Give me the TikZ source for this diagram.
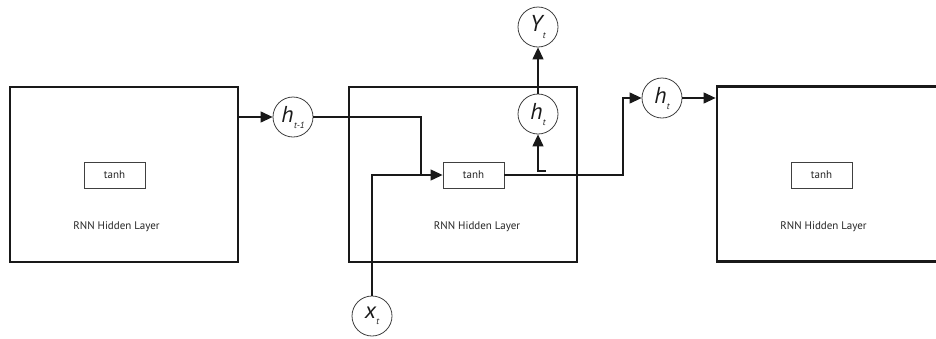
\documentclass[tikz,border=0pt]{standalone}
\usepackage{fontspec}
\setmainfont{PT Sans}
\usetikzlibrary{arrows.meta}
\newcommand{\circlab}[2]{{\fontsize{23}{23}\selectfont\itshape #1}\kern0.5pt\raisebox{-6pt}{\fontsize{9}{9}\selectfont\itshape #2}}
\tikzset{
  layerbox/.style={draw=black!90, line width=2.8pt, minimum width=228pt, minimum height=175pt, inner sep=0pt},
  tanhbox/.style={draw=black!75, line width=0.9pt, minimum width=61pt, minimum height=26pt, inner sep=0pt, font=\fontsize{11}{11}\selectfont, text=black!85},
  layerlab/.style={font=\fontsize{11}{11}\selectfont, text=black!85, inner sep=0pt},
  state/.style={circle, draw=black!75, line width=0.8pt, minimum size=40pt, inner sep=0pt, text=black!90},
  conn/.style={draw=black!90, line width=1.2pt},
  arr/.style={conn, -{Triangle[length=12pt,width=11pt]}}
}
\begin{document}
\begin{tikzpicture}[x=1pt,y=-1pt]
\useasboundingbox (0,0) rectangle (936,338);
\clip (0,0) rectangle (936,338);
\fill[white] (0,0) rectangle (936,338);
% layer boxes
\node[layerbox] (box1) at (124,174.5) {};
\node[layerbox] (box2) at (463,174.5) {};
\node[layerbox, minimum width=240pt] (box3) at (837,174) {};
% tanh boxes
\node[tanhbox] (tanh1) at (114.5,175) {tanh};
\node[tanhbox] (tanh2) at (473.5,175) {tanh};
\node[tanhbox] (tanh3) at (821.5,175) {tanh};
% labels
\node[layerlab] (lab1) at (116.5,227) {RNN Hidden Layer};
\node[layerlab] (lab2) at (477,227) {RNN Hidden Layer};
\node[layerlab] (lab3) at (823.5,227) {RNN Hidden Layer};
% states
\node[state] (hprev) at (293,117) {\circlab{h}{t-1}};
\node[state] (xt) at (372,316) {\circlab{x}{t}};
\node[state] (htin) at (538,114) {\circlab{h}{t}};
\node[state] (yt) at (538,27) {\circlab{Y}{t}};
\node[state] (htout) at (662,98) {\circlab{h}{t}};
% junction coordinates
\coordinate (j) at (421,175);
\coordinate (k) at (623,175);
\coordinate (l) at (546,171);
% connectors
\draw[arr] (box1.east |- hprev) -- (hprev);
\draw[conn] (hprev.east) -| (j);
\draw[arr] (xt.north) |- (tanh2.west);
\draw[arr] (tanh2.east) -- (k) |- (htout.west);
\draw[arr] (l) -| (htin.south);
\draw[arr] (htin.north) -- (yt.south);
\draw[arr] (htout.east) -- (box3.west |- htout);
\end{tikzpicture}
\end{document}
